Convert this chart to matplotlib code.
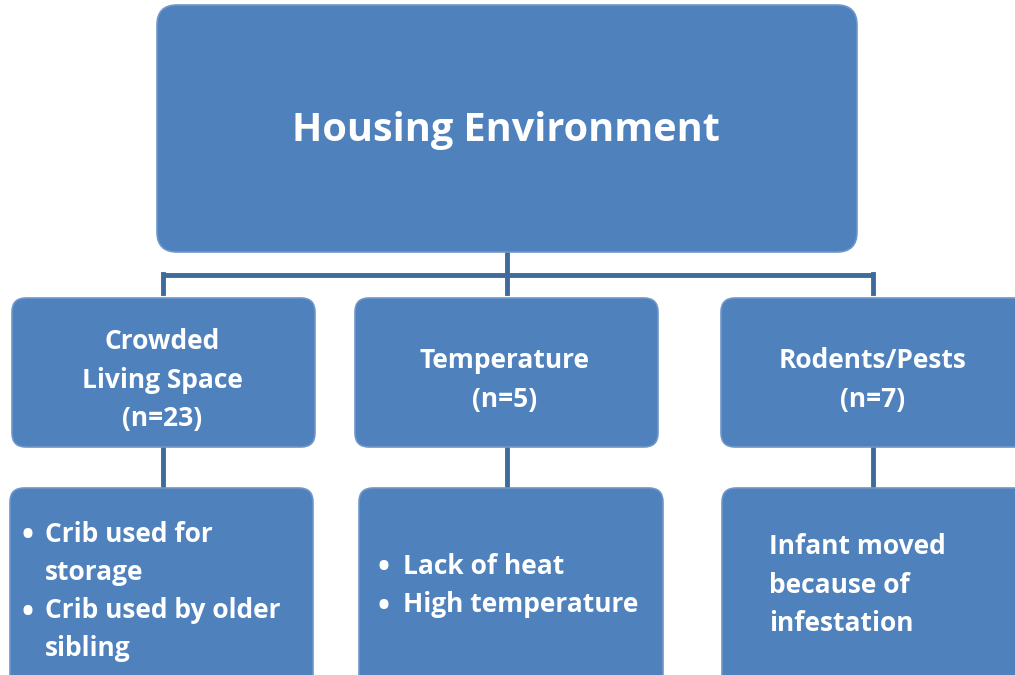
"""Housing environment tree diagram, redrawn with matplotlib patches."""

import matplotlib
matplotlib.use("Agg")
import matplotlib.pyplot as plt
from matplotlib.patches import FancyBboxPatch

FILL = "#4f81bd"
EDGE = "#6f96c8"
LINE = "#3f6a9c"
FONT = "Open Sans"

root_label = "Housing Environment"
categories = ["Crowded\nLiving Space\n(n=23)", "Temperature\n(n=5)",
              "Rodents/Pests\n(n=7)"]
details = [
    ["Crib used for\nstorage", "Crib used by older\nsibling"],
    ["Lack of heat", "High temperature"],
    ["Infant moved\nbecause of\ninfestation"],
]
bulleted = [True, True, False]

fig = plt.figure(figsize=(10.15, 6.75), dpi=100)
ax = fig.add_axes([0, 0, 1, 1])
ax.set_xlim(0, 1015)
ax.set_ylim(675, 0)
ax.axis("off")


def box(x0, y0, x1, y1, r=14):
    p = FancyBboxPatch((x0 + r, y0 + r), (x1 - x0) - 2 * r, (y1 - y0) - 2 * r,
                       boxstyle=f"round,pad={r}", facecolor=FILL,
                       edgecolor=EDGE, linewidth=1.2, zorder=2)
    ax.add_patch(p)


def label(x, y, s, ha="center", size=19):
    ax.text(x, y, s, ha=ha, va="center", color="white", fontsize=size,
            fontweight="bold", family=FONT, zorder=3)


# root box
box(157, 5, 857, 252, r=20)
label(506, 130, root_label, size=28.5)

# connectors
lw = 3.5
ax.plot([507, 507], [252, 293], color=LINE, lw=lw, zorder=1)
ax.plot([162, 873], [275, 275], color=LINE, lw=lw, zorder=1,
        solid_capstyle="butt")
for cx in [163, 873]:
    ax.plot([cx, cx], [274, 293], color=LINE, lw=lw, zorder=1)

step = 38.3
mid_boxes = [(12, 298, 315, 447), (355, 298, 658, 447), (721, 298, 1030, 447)]
mid_centers = [(162, 380), (505, 380), (873, 380)]
for (x0, y0, x1, y1), (cx, cy), text in zip(mid_boxes, mid_centers, categories):
    box(x0, y0, x1, y1)
    parts = text.split("\n")
    top = cy - step * (len(parts) - 1) / 2
    for i, part in enumerate(parts):
        label(cx, top + i * step, part)

for cx in [163, 507, 873]:
    ax.plot([cx, cx], [447, 490], color=LINE, lw=lw, zorder=1)

low_boxes = [(10, 488, 313, 690), (359, 488, 663, 690), (722, 488, 1030, 690)]
text_x = [45, 403, 769]
bullet_x = [28, 384, None]
text_top = [534, 566, 547]
for (x0, y0, x1, y1), tx, bx, ty, items, bul in zip(
        low_boxes, text_x, bullet_x, text_top, details, bulleted):
    box(x0, y0, x1, y1)
    row = 0
    for item in items:
        if bul:
            label(bx, ty + row * step + 3, "\u2022", size=23)
        for part in item.split("\n"):
            label(tx, ty + row * step, part, ha="left")
            row += 1

fig.savefig("out.png", dpi=100, facecolor="white")
